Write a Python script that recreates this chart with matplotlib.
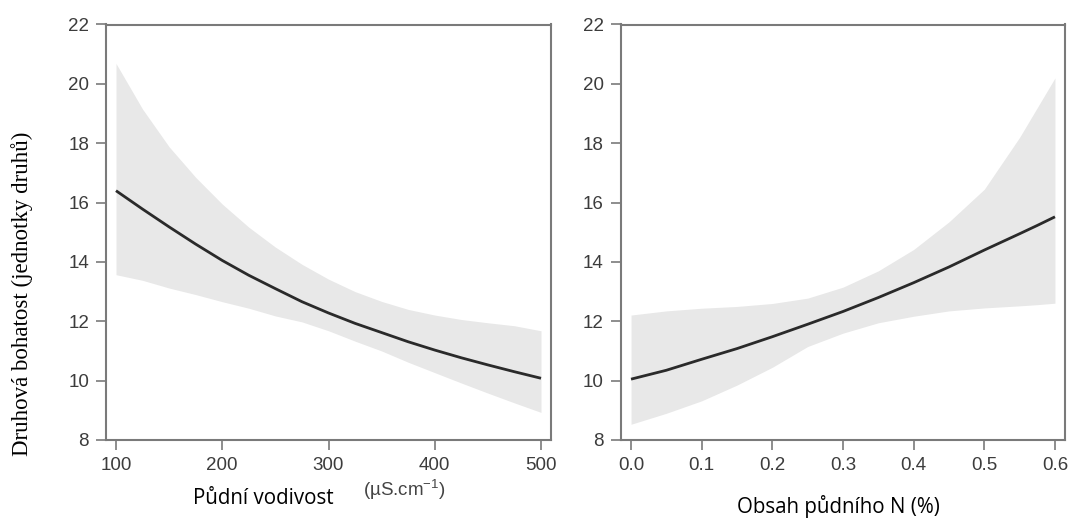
import numpy as np
import matplotlib
matplotlib.use('Agg')
import matplotlib.pyplot as plt

# left panel: soil conductivity (uS/cm)
cond = [100, 125, 150, 175, 200, 225, 250, 275, 300, 325, 350, 375, 400, 425, 450, 475, 500]
cond_fit = [16.40, 15.78, 15.18, 14.60, 14.05, 13.55, 13.10, 12.66, 12.28, 11.93,
            11.62, 11.31, 11.03, 10.77, 10.53, 10.30, 10.08]
cond_hi = [20.69, 19.15, 17.88, 16.85, 15.95, 15.17, 14.50, 13.92, 13.42, 13.00,
           12.67, 12.40, 12.21, 12.06, 11.95, 11.85, 11.68]
cond_lo = [13.57, 13.38, 13.12, 12.90, 12.66, 12.44, 12.18, 11.98, 11.68, 11.33,
           11.00, 10.62, 10.27, 9.92, 9.58, 9.25, 8.93]

# right panel: soil N (%)
nitro = [0.0, 0.05, 0.1, 0.15, 0.2, 0.25, 0.3, 0.35, 0.4, 0.45, 0.5, 0.55, 0.575, 0.6]
nitro_fit = [10.05, 10.35, 10.72, 11.08, 11.48, 11.90, 12.33, 12.80, 13.30, 13.83,
             14.40, 14.95, 15.23, 15.52]
nitro_hi = [12.21, 12.35, 12.44, 12.50, 12.60, 12.78, 13.15, 13.70, 14.42, 15.35,
            16.45, 18.20, 19.20, 20.20]
nitro_lo = [8.53, 8.90, 9.32, 9.85, 10.45, 11.15, 11.60, 11.95, 12.17, 12.35,
            12.45, 12.52, 12.56, 12.61]

yticks = [8, 10, 12, 14, 16, 18, 20, 22]
cond_ticks = [100, 200, 300, 400, 500]
nitro_ticks = [0.0, 0.1, 0.2, 0.3, 0.4, 0.5, 0.6]

W, H = 1071, 518
fig = plt.figure(figsize=(W / 100, H / 100), dpi=100)

def px_axes(x0, x1, y0, y1):
    return fig.add_axes([x0 / W, 1 - y1 / H, (x1 - x0) / W, (y1 - y0) / H])

ax1 = px_axes(106, 551, 24.5, 440)
ax2 = px_axes(620.5, 1065, 24.5, 440)

spine_col = '#7a7a7a'
band_col = '#e8e8e8'
line_col = '#2a2a2a'

ax1.fill_between(cond, cond_lo, cond_hi, color=band_col, lw=0)
ax1.plot(cond, cond_fit, color=line_col, lw=2.0, solid_capstyle='butt')
ax1.set_xlim(90.6, 509.4)
ax1.set_xticks(cond_ticks)

ax2.fill_between(nitro, nitro_lo, nitro_hi, color=band_col, lw=0)
ax2.plot(nitro, nitro_fit, color=line_col, lw=2.0, solid_capstyle='butt')
ax2.set_xlim(-0.0149, 0.6142)
ax2.set_xticks(nitro_ticks)
ax2.set_xticklabels(['%.1f' % t for t in nitro_ticks])

for ax in (ax1, ax2):
    for s in ax.spines.values():
        s.set_color(spine_col)
        s.set_linewidth(1.5)
    ax.tick_params(direction='out', length=7.2, width=1.2, color=spine_col,
                   labelsize=13.5, labelcolor='#3c3c3c', pad=5)
    ax.set_ylim(8, 22)
    ax.set_yticks(yticks)
    for lab in ax.get_xticklabels() + ax.get_yticklabels():
        lab.set_family('Liberation Sans')

fig.text(22 / W, 1 - 294 / H, 'Druhová bohatost (jednotky druhů)', rotation=90,
         ha='center', va='center', family='Liberation Serif', fontsize=16.5)
fig.text(263 / W, 1 - 498 / H, 'Půdní vodivost', ha='center', va='center',
         family='Open Sans', fontsize=14.8)
fig.text(404 / W, 1 - 490 / H, r'(µS.cm$^{\mathregular{-1}}$)', ha='center', va='center',
         family='Liberation Sans', fontsize=13.5, color='#444444')
fig.text(838 / W, 1 - 506 / H, 'Obsah půdního N (%)', ha='center', va='center',
         family='Open Sans', fontsize=14.8)

fig.savefig('out.png', dpi=100)
